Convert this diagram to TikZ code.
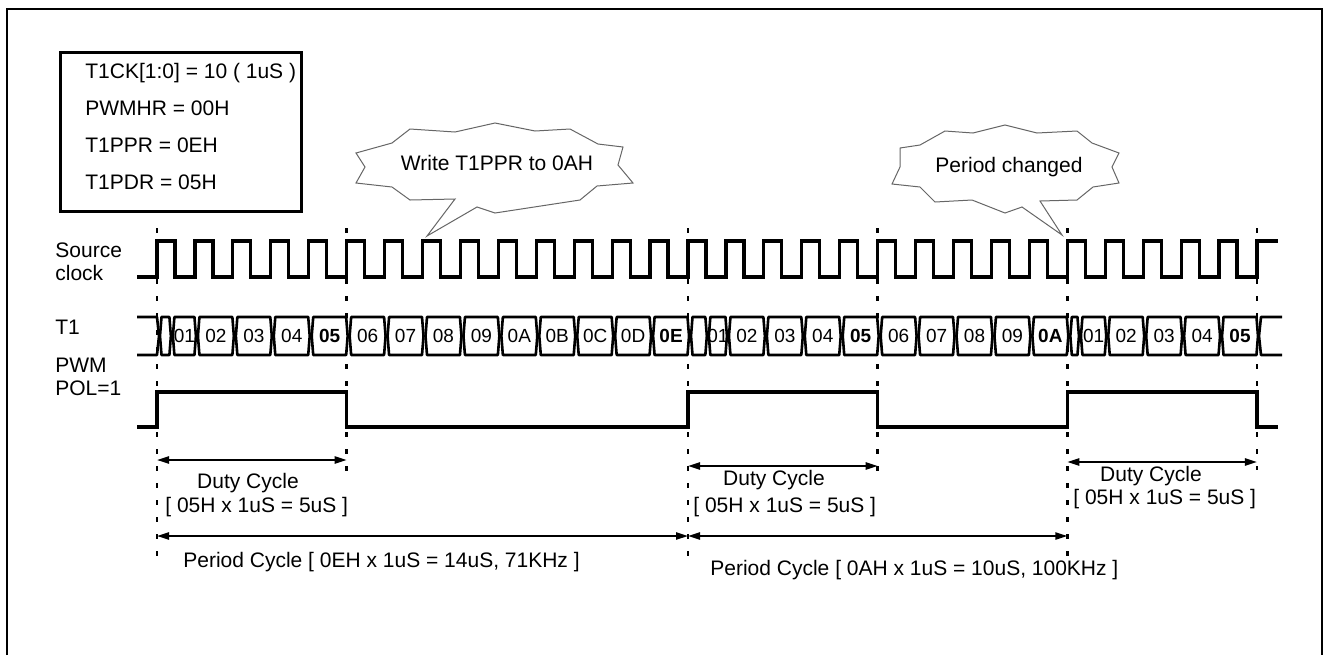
\documentclass[tikz,border=0pt]{standalone}
\usepackage{fontspec}
\setmainfont{Liberation Sans}
\usetikzlibrary{positioning, arrows.meta}

\begin{document}
\begin{tikzpicture}[x=0.5pt, y=-0.5pt,
    every node/.style={font=\fontsize{10.5}{11.5}\selectfont, inner sep=0pt},
    lbl/.style={anchor=west, align=left},
    wave/.style={line width=1.6pt, line join=miter},
    bus/.style={line width=1.3pt, fill=white, line join=round},
    cellTxt/.style={font=\fontsize{9.5}{11}\selectfont},
    guide/.style={line width=1.2pt, dash pattern=on 2.5pt off 6pt},
    dim/.style={line width=0.9pt, {Triangle[length=6pt,width=3.6pt]}-{Triangle[length=6pt,width=3.6pt]}},
    cloud/.style={draw=black!60, line width=0.5pt, fill=white},
  ]
  \useasboundingbox (0,0) rectangle (1329,655);
  \draw[line width=1pt] (7,655) -- (7,9) -- (1322,9) -- (1322,655);

  \node[draw, line width=1.5pt, anchor=north west, minimum width=120.5pt, minimum height=79.5pt] (regs) at (59,51) {};
  \node[lbl, font=\fontsize{10.5}{18.5}\selectfont] (regtxt) at (85,126.5)
    {T1CK[1:0] = 10 ( 1uS )\\PWMHR = 00H\\T1PPR = 0EH\\T1PDR = 05H};

  \node[lbl] (src) at (55,261.5) {Source\\clock};
  \node[lbl] (t1) at (55,327) {T1};
  \node[lbl] (pwm) at (55,376.5) {PWM\\POL=1};

  \draw[cloud] (356,153) -- (392,143) -- (410,129) -- (455,132) -- (495,123) -- (535,131) -- (570,129)
    -- (598,144) -- (623,147) -- (618,165) -- (633,183) -- (597,186) -- (580,200) -- (495,213)
    -- (477,207) -- (427,236) -- (455,199) -- (410,200) -- (392,187) -- (356,183) -- (365,167) -- cycle;
  \node (wr) at (497,163) {Write T1PPR to 0AH};
  \draw[cloud] (900,148) -- (920,145) -- (945,131) -- (973,133) -- (1005,125) -- (1037,133) -- (1077,131)
    -- (1092,143) -- (1119,153) -- (1112,167) -- (1119,183) -- (1093,187) -- (1077,200) -- (1040,201)
    -- (1062,235) -- (1022,207) -- (1005,213) -- (972,200) -- (935,202) -- (920,187) -- (892,184)
    -- (900,167) -- cycle;
  \node (pc) at (1009,167) {Period changed};

  \foreach \n/\k in {ea/0, eb/5, ec/14, ed/19, ee/24, ef/29}
    \coordinate (\n) at ({157+\k*37.93},228);
  \foreach \n/\len in {ea/332, eb/247, ec/330, ed/252, ee/328, ef/242}
    \draw[guide] (\n) -- ++(0,\len);

  \draw[wave] (137,277) foreach \k in {0,...,28} {
      -- ({157+\k*37.93},277) -- ({157+\k*37.93},241) -- ({175+\k*37.93},241) -- ({175+\k*37.93},277) }
    -- ({157+29*37.93},277) -- ({157+29*37.93},241) -- (1278,241);

  \draw[bus, fill=none] (137,317) -- (157,317) -- (159,336) -- (157,355) -- (137,355);
  \draw[bus, fill=none] (1282,317) -- (1261,317) -- (1259,336) -- (1261,355) -- (1282,355);
  \foreach \a/\b/\t [count=\i] in {0/0.34/{}, 0.34/1/01, 1/2/02, 2/3/03, 3/4/04, 4/5/\textbf{05},
      5/6/06, 6/7/07, 7/8/08, 8/9/09, 9/10/0A, 10/11/0B, 11/12/0C, 12/13/0D, 13/14/\textbf{0E},
      14/14.47/{}, 14.47/15/01, 15/16/02, 16/17/03, 17/18/04, 18/19/\textbf{05},
      19/20/06, 20/21/07, 21/22/08, 22/23/09, 23/24/\textbf{0A},
      24/24.28/{}, 24.28/25/01, 25/26/02, 26/27/03, 27/28/04, 28/29/\textbf{05}} {
    \pgfmathsetmacro\xa{159+\a*37.93}
    \pgfmathsetmacro\xb{159+\b*37.93}
    \draw[bus] (\xa+1,336) -- (\xa+2.5,317) -- (\xb-2.5,317) -- (\xb-1,336) -- (\xb-2.5,355) -- (\xa+2.5,355) -- cycle;
    \node[cellTxt] (cell\i) at ({(\xa+\xb)/2},336) {\t};
  }

  \coordinate (lo) at (0,427);
  \coordinate (hi) at (0,392);
  \draw[wave] (137,427) -- (ea |- lo) -- (ea |- hi) -- (eb |- hi) -- (eb |- lo) -- (ec |- lo) -- (ec |- hi)
    -- (ed |- hi) -- (ed |- lo) -- (ee |- lo) -- (ee |- hi) -- (ef |- hi) -- (ef |- lo) -- (1278,427);

  \coordinate (dA) at (0,460);
  \coordinate (dB) at (0,466);
  \coordinate (dC) at (0,462);
  \coordinate (pA) at (0,536);
  \draw[dim] (ea |- dA) -- (eb |- dA);
  \draw[dim] (ec |- dB) -- (ed |- dB);
  \draw[dim] (ee |- dC) -- (ef |- dC);
  \draw[dim] (ea |- pA) -- (ec |- pA);
  \draw[dim] (ec |- pA) -- (ee |- pA);

  \node (dutyA) at (248,483) {Duty Cycle};
  \node[lbl] (dutyAv) at (165,507) {[ 05H x 1uS = 5uS ]};
  \node (dutyB) at (774,480) {Duty Cycle};
  \node[lbl] (dutyBv) at (693,507) {[ 05H x 1uS = 5uS ]};
  \node (dutyC) at (1151,476) {Duty Cycle};
  \node[lbl] (dutyCv) at (1073,499) {[ 05H x 1uS = 5uS ]};
  \node[lbl] (perA) at (183,562) {Period Cycle [ 0EH x 1uS = 14uS, 71KHz ]};
  \node[lbl] (perB) at (710,570) {Period Cycle [ 0AH x 1uS = 10uS, 100KHz ]};
\end{tikzpicture}
\end{document}
